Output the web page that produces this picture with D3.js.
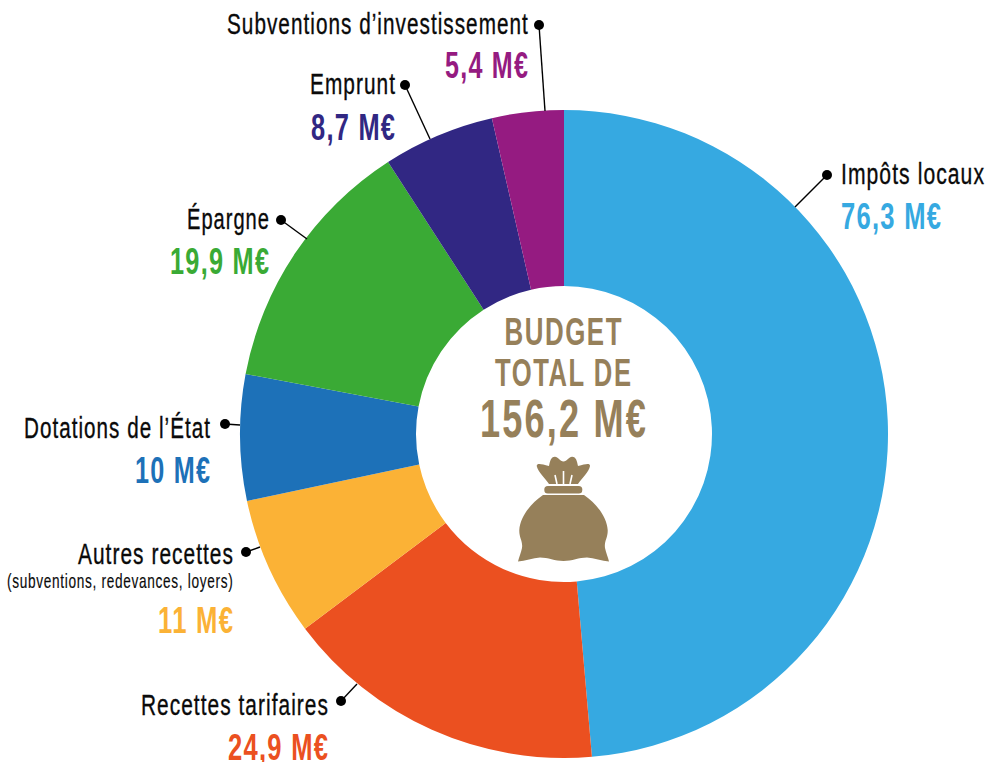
<!DOCTYPE html>
<html><head><meta charset="utf-8">
<script src="https://cdn.jsdelivr.net/npm/d3@7"></script>
<style>html,body{margin:0;padding:0;background:#fff;overflow:hidden}svg{display:block}</style>
</head><body><svg id="c" width="985" height="762"></svg>
<script>
// data
const categories = ["Impôts locaux","Recettes tarifaires","Autres recettes","Dotations de l’État","Épargne","Emprunt","Subventions d’investissement"];
// slice sizes as measured from the angles drawn in the picture (M€)
const sliceValues = [75.95,25.17,10.85,9.8,20.15,8.69,5.58];
const valueLabels = ["76,3 M€","24,9 M€","11 M€","10 M€","19,9 M€","8,7 M€","5,4 M€"];
const colours = ["#36a9e1","#eb5020","#fbb236","#1d71b8","#3aaa35","#312783","#951b81"];
const subLabel = "(subventions, redevances, loyers)";
const centreLines = ["BUDGET","TOTAL DE","156,2 M€"];

// layout (annotation placement only)
const cx=564, cy=434, R=324, r=148;
const FONT='"Liberation Sans Narrow","Liberation Sans",sans-serif';
const TAN="#96805a";
const labelLayout = [
 {dot:[827,175],end:[795,207],x:841,anchor:"start",y1:184,y2:229,w1:143,w2:100},
 {dot:[341,701],end:[357,684],x:328,anchor:"end",y1:715,y2:760,w1:187,w2:100},
 {dot:[246,552],end:[260,547],x:233,anchor:"end",y1:564,y2:633,w1:155,w2:75,ys:588,ws:226},
 {dot:[225,424],end:[240,425],x:210,anchor:"end",y1:438,y2:483,w1:186,w2:75},
 {dot:[281,220],end:[307,239],x:269,anchor:"end",y1:229,y2:274,w1:82,w2:99},
 {dot:[405,85],end:[430,139],x:395,anchor:"end",y1:94,y2:140,w1:85,w2:84},
 {dot:[539,25],end:[545,111],x:528,anchor:"end",y1:34,y2:78,w1:301,w2:83}
];
const centreLayout=[{y:345,w:117,s:39},{y:386,w:136,s:39},{y:437,w:166,s:54}];

const svg=d3.select("#c");
const pie=d3.pie().sort(null).value(d=>d);
const arc=d3.arc().innerRadius(r).outerRadius(R);
const g=svg.append("g").attr("transform",`translate(${cx},${cy})`);
g.selectAll("path").data(pie(sliceValues)).join("path")
 .attr("d",arc).attr("fill",(d,i)=>colours[i]);

// draws a text squeezed horizontally so its glyphs end up exactly w wide
function fit(sel,x,y,w,anchor,size,weight,fill,txt,sw,ls){
  const sx = anchor==="end" ? x-w : x;
  const spacing = (ls||0)*size;
  const t=sel.append("text").attr("x",0).attr("y",0)
   .attr("font-family",FONT).attr("font-size",size).attr("font-weight",weight)
   .style("letter-spacing",spacing+"px")
   .attr("fill",fill).attr("stroke",sw?fill:"none").attr("stroke-width",sw||0).text(txt);
  const natural=t.node().getComputedTextLength()-spacing;
  t.attr("transform",`translate(${sx},${y}) scale(${w/natural},1)`);
}
const labels=svg.append("g");
categories.forEach((c,i)=>{
  const L=labelLayout[i];
  labels.append("line").attr("x1",L.dot[0]).attr("y1",L.dot[1]).attr("x2",L.end[0]).attr("y2",L.end[1])
    .attr("stroke","#000").attr("stroke-width",1.4);
  labels.append("circle").attr("cx",L.dot[0]).attr("cy",L.dot[1]).attr("r",5).attr("fill","#000");
  fit(labels,L.x,L.y1,L.w1,L.anchor,29,"normal","#0a0a0a",c,0.35,0.05);
  if(L.ys) fit(labels,L.x,L.ys,L.ws,L.anchor,20,"normal","#0a0a0a",subLabel,0.15,0.05);
  fit(labels,L.x,L.y2,L.w2,L.anchor,37,"bold",colours[i],valueLabels[i],0,0.05);
});
centreLines.forEach((t,i)=>{
  const C=centreLayout[i];
  fit(svg,cx-1-C.w/2,C.y,C.w,"start",C.s,"bold",TAN,t,0,0.06);
});

// money bag
const bag=svg.append("g").attr("fill",TAN);
bag.append("path").attr("d","M549,484 C545,478 538,472 536.7,466 C537,463 541,464 549,466 C550,461 551,456.5 555,456.7 C558,457 560,461 563.5,461.5 C567,461 569,457 572,456.7 C576,456.5 577,461 578,466 C586,464 590,463 590,466 C589,472 582,478 578,484 Z");
bag.append("rect").attr("x",544.3).attr("y",486).attr("width",38).attr("height",7.4).attr("rx",3.5);
bag.append("path").attr("d","M543,495 L584,495 C596,503 607,517 607.7,530 C608,538 604,541 605,548 C606,553 608,557 609,561.5 C602,561 594,558 587,557.5 C579,557.5 572,561 563.5,561 C555,561 548,557.5 540,557.5 C533,558 525,561 518,561.5 C519,557 521,553 522,548 C523,541 519,538 519.3,530 C520,517 531,503 543,495 Z");
bag.append("g").attr("stroke","#fff").attr("stroke-width",1.6)
  .selectAll("line").data([[555,475,557,484],[563.5,471,563.5,484],[572,475,570,484]]).join("line")
  .attr("x1",d=>d[0]).attr("y1",d=>d[1]).attr("x2",d=>d[2]).attr("y2",d=>d[3]);
</script></body></html>
